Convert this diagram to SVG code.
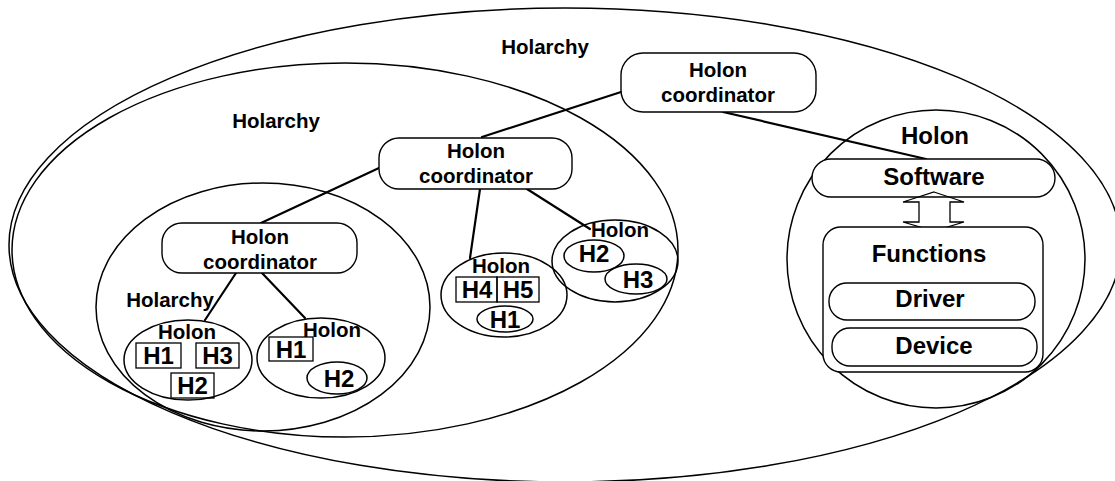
<svg xmlns="http://www.w3.org/2000/svg" width="1115" height="481" viewBox="0 0 1115 481">
  <style>
    .bg { fill: #ffffff; }
    .ring { fill: none; stroke: #000; stroke-width: 1.5; }
    .box { fill: #fff; stroke: #000; stroke-width: 1.4; }
    .hbox { fill: none; stroke: #000; stroke-width: 1.3; }
    .link { fill: none; stroke: #000; stroke-width: 2.2; stroke-linecap: round; }
    text { font-family: "Liberation Sans", Arial, sans-serif; font-weight: bold; fill: #000; text-anchor: middle; }
    .lbl { font-size: 20.5px; }
    .big { font-size: 24px; }
    .h { font-size: 24px; }
  </style>
  <rect class="bg" x="0" y="0" width="1115" height="481"/>

  <!-- nested holarchy boundaries -->
  <g id="holarchy-outer">
    <ellipse class="ring" cx="565" cy="245" rx="556" ry="237"/>
    <text class="lbl" x="545" y="54">Holarchy</text>
  </g>
  <g id="holarchy-middle">
    <ellipse class="ring" cx="345" cy="250" rx="333" ry="187"/>
    <text class="lbl" x="276" y="128">Holarchy</text>
  </g>
  <g id="holarchy-inner">
    <ellipse class="ring" cx="263" cy="307" rx="167" ry="124"/>
    <text class="lbl" x="170" y="307">Holarchy</text>
  </g>

  <!-- connectors -->
  <g id="connectors">
    <line class="link" x1="621" y1="92" x2="482" y2="137"/>
    <line class="link" x1="723" y1="112" x2="926" y2="159"/>
    <line class="link" x1="379" y1="168" x2="261" y2="223"/>
    <line class="link" x1="480" y1="189" x2="470" y2="258"/>
    <line class="link" x1="527" y1="189" x2="590" y2="229"/>
    <line class="link" x1="236" y1="273" x2="205" y2="320"/>
    <line class="link" x1="262" y1="273" x2="305" y2="318"/>
  </g>

  <!-- coordinators -->
  <g id="coordinator-top">
    <rect class="box" x="621" y="53" width="195" height="59" rx="22"/>
    <text class="lbl" x="718" y="77">Holon</text>
    <text class="lbl" x="718" y="102">coordinator</text>
  </g>
  <g id="coordinator-middle">
    <rect class="box" x="379" y="138" width="193" height="51" rx="20"/>
    <text class="lbl" x="476" y="158">Holon</text>
    <text class="lbl" x="476" y="183">coordinator</text>
  </g>
  <g id="coordinator-lower">
    <rect class="box" x="162" y="223" width="195" height="50" rx="20"/>
    <text class="lbl" x="260" y="244">Holon</text>
    <text class="lbl" x="260" y="269">coordinator</text>
  </g>

  <!-- leaf holons -->
  <g id="holon-a">
    <ellipse class="ring" cx="188" cy="360" rx="64" ry="40"/>
    <text class="lbl" x="187" y="339">Holon</text>
    <rect class="hbox" x="136" y="343" width="45" height="25"/>
    <text class="h" x="158.5" y="364">H1</text>
    <rect class="hbox" x="196" y="343" width="43" height="25"/>
    <text class="h" x="217.5" y="364">H3</text>
    <rect class="hbox" x="171" y="373" width="43" height="25"/>
    <text class="h" x="192.5" y="394">H2</text>
  </g>
  <g id="holon-b">
    <ellipse class="ring" cx="321" cy="358" rx="64" ry="40"/>
    <text class="lbl" x="332" y="337">Holon</text>
    <rect class="hbox" x="269" y="337" width="44" height="24"/>
    <text class="h" x="291" y="358">H1</text>
    <ellipse class="ring" cx="337" cy="378" rx="30" ry="16"/>
    <text class="h" x="339" y="387">H2</text>
  </g>
  <g id="holon-c">
    <ellipse class="ring" cx="504" cy="295" rx="63" ry="42"/>
    <text class="lbl" x="501" y="273">Holon</text>
    <rect class="hbox" x="456" y="277" width="41" height="25"/>
    <text class="h" x="477" y="298">H4</text>
    <rect class="hbox" x="497" y="277" width="42" height="25"/>
    <text class="h" x="518" y="298">H5</text>
    <ellipse class="ring" cx="505" cy="319" rx="28" ry="13"/>
    <text class="h" x="505" y="328">H1</text>
  </g>
  <g id="holon-d">
    <ellipse class="ring" cx="615" cy="261" rx="63" ry="41"/>
    <text class="lbl" x="620" y="237">Holon</text>
    <ellipse class="ring" cx="594" cy="256" rx="30" ry="16"/>
    <text class="h" x="594" y="262">H2</text>
    <ellipse class="ring" cx="636" cy="279" rx="31" ry="15"/>
    <text class="h" x="638" y="288">H3</text>
  </g>

  <!-- holon internals: software over functions -->
  <g id="holon-detail">
    <circle class="ring" cx="936" cy="259" r="149"/>
    <text class="big" x="935" y="144">Holon</text>
    <rect class="box" x="812" y="159" width="243" height="38" rx="19"/>
    <text class="big" x="934" y="185">Software</text>
    <polygon class="hbox" points="934,192 964,202 950,202 950,222 964,222 934,231 903,222 919,222 919,202 903,202"/>
    <rect class="box" x="823" y="227" width="220" height="145" rx="18"/>
    <text class="big" x="929" y="262">Functions</text>
    <rect class="box" x="829" y="283" width="206" height="37" rx="18"/>
    <text class="big" x="930" y="307">Driver</text>
    <rect class="box" x="832" y="328" width="205" height="38" rx="18"/>
    <text class="big" x="934" y="354">Device</text>
  </g>
</svg>
